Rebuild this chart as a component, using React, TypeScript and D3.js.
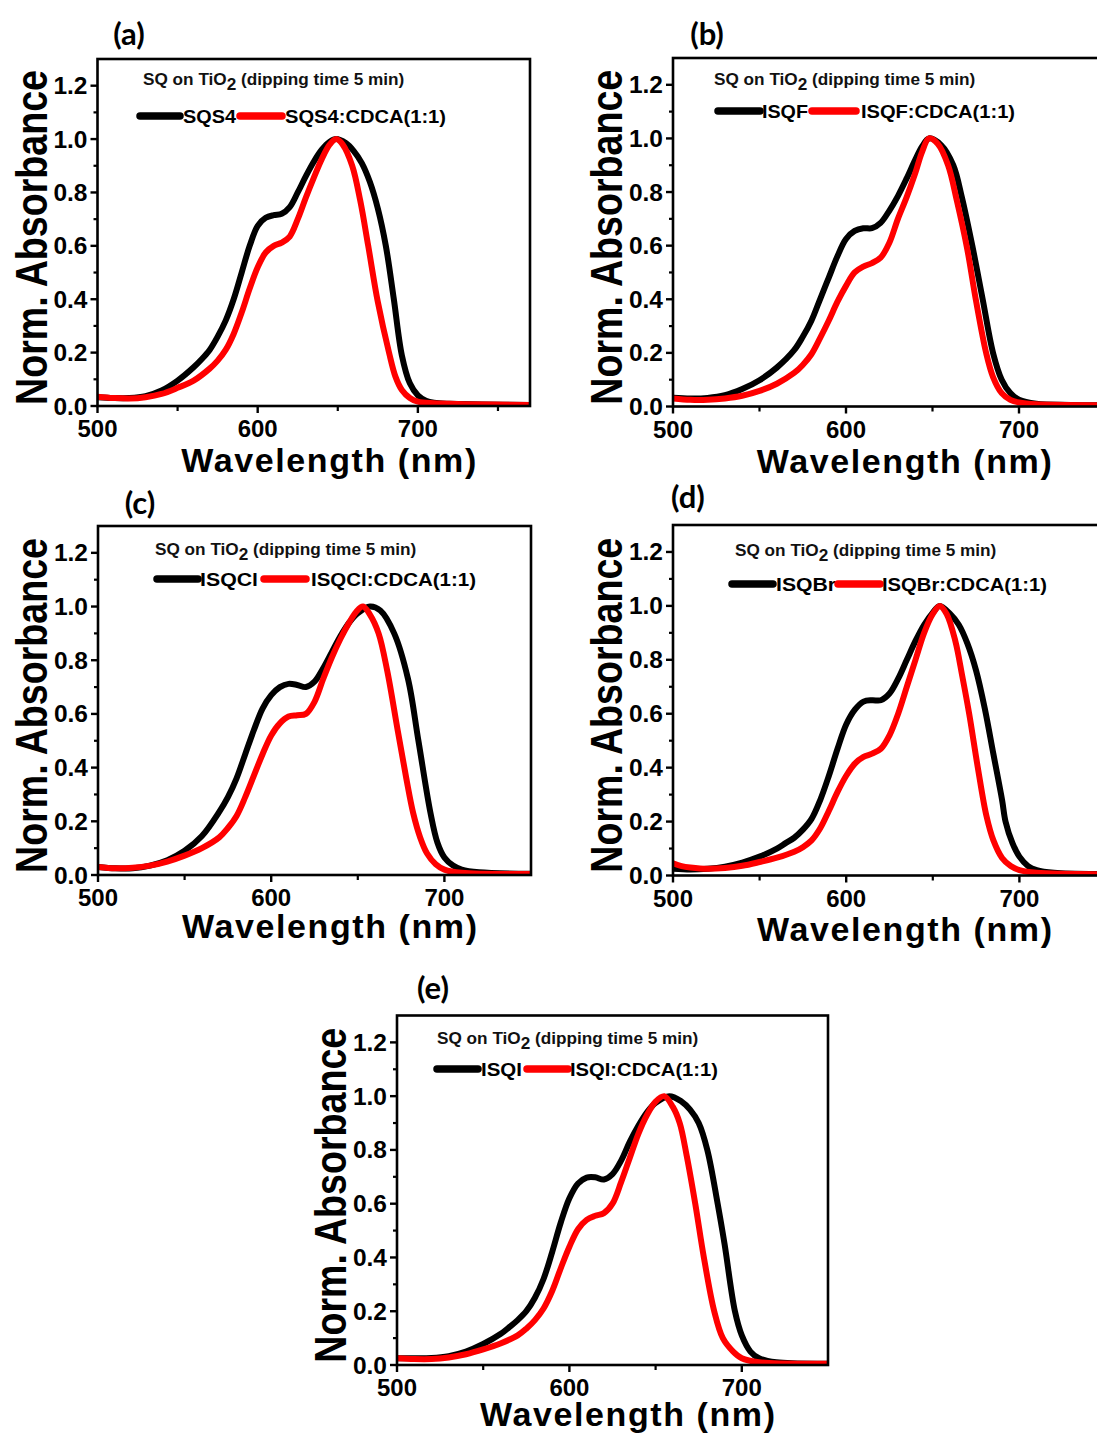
import React from "react";
import * as d3 from "d3";

type Pt = [number, number];

// ---------- data: [wavelength (nm), normalized absorbance] ----------
const sqs4: Pt[] = [[500,0.033],[510,0.03],[520,0.03],[530,0.037],[540,0.058],[550,0.095],[560,0.145],[565,0.175],[570,0.21],[575,0.26],[580,0.32],[585,0.4],[590,0.5],[595,0.6],[600,0.675],[605,0.705],[610,0.715],[615,0.72],[620,0.745],[625,0.8],[630,0.86],[635,0.915],[640,0.96],[645,0.99],[649,1.0],[655,0.985],[660,0.955],[665,0.91],[670,0.84],[675,0.74],[680,0.6],[685,0.4],[690,0.19],[695,0.085],[700,0.04],[705,0.02],[710,0.012],[720,0.008],[740,0.006],[770,0.004]];
const sqs4Cdca: Pt[] = [[500,0.035],[510,0.03],[520,0.028],[530,0.033],[540,0.045],[550,0.068],[560,0.095],[570,0.14],[575,0.17],[580,0.21],[585,0.27],[590,0.35],[595,0.44],[600,0.52],[605,0.575],[610,0.6],[615,0.612],[620,0.635],[625,0.7],[630,0.78],[635,0.855],[640,0.925],[645,0.98],[649,1.0],[653,0.98],[659,0.9],[664,0.77],[669,0.6],[675,0.39],[682,0.2],[686,0.11],[690,0.06],[695,0.03],[700,0.016],[710,0.01],[730,0.007],[770,0.004]];

const isqf: Pt[] = [[500,0.033],[510,0.03],[520,0.032],[530,0.042],[540,0.065],[550,0.098],[560,0.145],[570,0.21],[575,0.26],[580,0.32],[585,0.4],[590,0.48],[595,0.56],[600,0.625],[605,0.655],[610,0.665],[615,0.665],[620,0.685],[625,0.73],[630,0.785],[635,0.85],[640,0.92],[644,0.97],[648,1.0],[655,0.975],[662,0.9],[667,0.78],[673,0.6],[679,0.4],[685,0.2],[690,0.1],[695,0.05],[700,0.025],[710,0.01],[730,0.006],[750,0.005]];
const isqfCdca: Pt[] = [[500,0.03],[510,0.025],[520,0.025],[530,0.03],[540,0.04],[550,0.058],[560,0.085],[570,0.125],[575,0.155],[580,0.195],[585,0.255],[590,0.32],[595,0.39],[600,0.45],[605,0.5],[610,0.522],[615,0.535],[620,0.555],[625,0.61],[630,0.7],[635,0.78],[640,0.87],[644,0.95],[648,1.0],[653,0.98],[659,0.9],[664,0.77],[670,0.59],[675,0.4],[681,0.2],[685,0.11],[690,0.05],[695,0.025],[700,0.015],[710,0.008],[750,0.005]];

const isqcl: Pt[] = [[500,0.03],[510,0.025],[520,0.025],[530,0.035],[540,0.055],[550,0.09],[560,0.145],[570,0.235],[575,0.29],[580,0.36],[585,0.45],[590,0.54],[595,0.62],[600,0.67],[605,0.7],[610,0.712],[615,0.708],[620,0.7],[625,0.72],[630,0.77],[635,0.83],[640,0.89],[645,0.94],[650,0.975],[657,1.0],[663,0.985],[671,0.9],[679,0.73],[685,0.5],[692,0.23],[696,0.12],[700,0.065],[705,0.035],[710,0.02],[720,0.01],[750,0.005]];
const isqclCdca: Pt[] = [[500,0.03],[510,0.025],[520,0.027],[530,0.035],[540,0.05],[550,0.072],[560,0.1],[570,0.14],[575,0.175],[580,0.22],[585,0.29],[590,0.37],[595,0.45],[600,0.52],[605,0.565],[610,0.59],[615,0.595],[620,0.6],[625,0.645],[630,0.73],[635,0.81],[640,0.88],[645,0.94],[649,0.98],[653,1.0],[657,0.97],[662,0.9],[667,0.76],[673,0.54],[678,0.36],[682,0.23],[686,0.14],[690,0.08],[695,0.04],[700,0.02],[710,0.008],[750,0.004]];

const isqbr: Pt[] = [[500,0.025],[510,0.022],[520,0.025],[530,0.033],[540,0.048],[550,0.07],[560,0.1],[565,0.12],[570,0.14],[575,0.17],[580,0.21],[585,0.28],[590,0.37],[595,0.47],[600,0.56],[605,0.615],[610,0.645],[615,0.65],[620,0.65],[625,0.675],[630,0.73],[635,0.8],[640,0.87],[645,0.93],[650,0.975],[654,1.0],[660,0.97],[665,0.93],[670,0.86],[675,0.76],[680,0.62],[685,0.45],[690,0.28],[692,0.2],[696,0.12],[700,0.07],[705,0.035],[710,0.02],[720,0.01],[750,0.005]];
const isqbrCdca: Pt[] = [[500,0.045],[505,0.035],[510,0.03],[520,0.025],[530,0.028],[540,0.036],[550,0.05],[560,0.066],[570,0.088],[575,0.105],[580,0.13],[585,0.175],[590,0.24],[595,0.31],[600,0.37],[605,0.415],[610,0.44],[615,0.452],[620,0.47],[625,0.52],[630,0.6],[635,0.7],[640,0.8],[645,0.9],[650,0.97],[654,1.0],[658,0.97],[663,0.87],[667,0.74],[671,0.6],[676,0.4],[681,0.22],[685,0.13],[690,0.065],[695,0.035],[700,0.02],[710,0.01],[750,0.005]];

const isqi: Pt[] = [[500,0.025],[510,0.025],[520,0.026],[530,0.033],[540,0.05],[550,0.078],[560,0.115],[565,0.14],[570,0.167],[575,0.2],[580,0.25],[585,0.32],[590,0.42],[595,0.53],[600,0.62],[605,0.675],[610,0.697],[615,0.698],[620,0.69],[625,0.71],[630,0.76],[635,0.83],[640,0.89],[645,0.94],[650,0.975],[658,1.0],[665,0.98],[670,0.95],[675,0.9],[680,0.8],[686,0.6],[690,0.45],[696,0.2],[700,0.11],[705,0.05],[710,0.025],[720,0.01],[750,0.005]];
const isqiCdca: Pt[] = [[500,0.025],[510,0.022],[520,0.022],[530,0.028],[540,0.04],[550,0.058],[560,0.08],[570,0.11],[575,0.135],[580,0.167],[585,0.21],[590,0.275],[595,0.36],[600,0.44],[605,0.505],[610,0.54],[615,0.555],[620,0.565],[625,0.6],[630,0.68],[635,0.77],[640,0.86],[645,0.93],[650,0.98],[655,1.0],[660,0.96],[664,0.9],[668,0.78],[673,0.6],[678,0.4],[684,0.2],[689,0.1],[695,0.05],[700,0.025],[710,0.01],[750,0.005]];

const panelLabels = ["(a)", "(b)", "(c)", "(d)", "(e)"];
const blackNames = ["SQS4", "ISQF", "ISQCl", "ISQBr", "ISQI"];
const redNames = ["SQS4:CDCA(1:1)", "ISQF:CDCA(1:1)", "ISQCl:CDCA(1:1)", "ISQBr:CDCA(1:1)", "ISQI:CDCA(1:1)"];
const blackSeries = [sqs4, isqf, isqcl, isqbr, isqi];
const redSeries = [sqs4Cdca, isqfCdca, isqclCdca, isqbrCdca, isqiCdca];
const xMaxes = [770, 750, 750, 750, 750];
const xTickValues = [500, 600, 700];
const xMinorValues = [550, 650, 750];
const yTickValues = [0, 0.2, 0.4, 0.6, 0.8, 1.0, 1.2];
const yMinorValues = [0.1, 0.3, 0.5, 0.7, 0.9, 1.1];
const legendTitle = "SQ on TiO";
const legendTitleSub = "2";
const legendTitleTail = " (dipping time 5 min)";
const xTitle = "Wavelength (nm)";
const yTitle = "Norm. Absorbance";

// ---------- layout ----------
const layouts = [
  { left: 97.5, right: 530, top: 59, bottom: 406, lab: [129, 45], xt: 66,
    title: [143, 85], row: 116, l1: [140, 180], t1: [183, 53], l2: [240, 282], t2: [285, 161] },
  { left: 673, right: 1105.5, top: 58, bottom: 406.5, lab: [707, 45], xt: 66,
    title: [714, 85], row: 111, l1: [718, 760], t1: [762, 46], l2: [812, 856], t2: [861, 154] },
  { left: 98, right: 531, top: 526, bottom: 875, lab: [140, 514], xt: 63,
    title: [155, 555], row: 579, l1: [157, 198], t1: [200, 58], l2: [264, 306], t2: [311, 165] },
  { left: 673, right: 1106, top: 525, bottom: 875.5, lab: [688, 508], xt: 65,
    title: [735, 556], row: 584, l1: [732, 773], t1: [776, 60], l2: [838, 880], t2: [882, 165] },
  { left: 397, right: 828, top: 1015.5, bottom: 1365, lab: [433, 999], xt: 61,
    title: [437, 1044], row: 1069, l1: [437, 478], t1: [481, 41], l2: [527, 568], t2: [570, 148] },
];

const FONT = "'Liberation Sans', Arial, sans-serif";

function Panel({ i }: { i: number }) {
  const L = layouts[i];
  const x = d3.scaleLinear().domain([500, xMaxes[i]]).range([L.left, L.right]);
  const y = d3.scaleLinear().domain([0, 1.3]).range([L.bottom, L.top]);
  const line = d3
    .line<Pt>()
    .x((d) => x(d[0]))
    .y((d) => y(d[1]))
    .curve(d3.curveCatmullRom.alpha(0.5));
  const clipId = `clip${i}`;
  const cx = (L.left + L.right) / 2 + 15;
  const cy = (L.top + L.bottom) / 2 + 5;
  return (
    <g>
      <defs>
        <clipPath id={clipId}>
          <rect x={L.left} y={L.top} width={L.right - L.left} height={L.bottom - L.top} />
        </clipPath>
      </defs>
      <text x={L.lab[0]} y={L.lab[1]} textAnchor="middle" fontFamily="Lato, 'Open Sans', sans-serif" fontWeight={700} fontSize={31}>
        {panelLabels[i]}
      </text>
      <g clipPath={`url(#${clipId})`}>
        <path d={line(blackSeries[i]) || ""} fill="none" stroke="#000" strokeWidth={6} strokeLinejoin="round" />
        <path d={line(redSeries[i]) || ""} fill="none" stroke="#ff0000" strokeWidth={6} strokeLinejoin="round" />
      </g>
      <rect x={L.left} y={L.top} width={L.right - L.left} height={L.bottom - L.top} fill="none" stroke="#000" strokeWidth={2.6} />
      {yTickValues.map((v) => (
        <g key={"y" + v}>
          <line x1={L.left - 7} x2={L.left} y1={y(v)} y2={y(v)} stroke="#000" strokeWidth={2.4} />
          <text x={L.left - 10} y={y(v) + 8.5} textAnchor="end" fontFamily={FONT} fontWeight={700} fontSize={24.5}>
            {d3.format(".1f")(v)}
          </text>
        </g>
      ))}
      {yMinorValues.map((v) => (
        <line key={"ym" + v} x1={L.left - 4} x2={L.left} y1={y(v)} y2={y(v)} stroke="#000" strokeWidth={2.2} />
      ))}
      {xTickValues.map((v) => (
        <g key={"x" + v}>
          <line x1={x(v)} x2={x(v)} y1={L.bottom} y2={L.bottom + 7} stroke="#000" strokeWidth={2.4} />
          <text x={x(v)} y={L.bottom + 31} textAnchor="middle" fontFamily={FONT} fontWeight={700} fontSize={24}>
            {v}
          </text>
        </g>
      ))}
      {xMinorValues.filter((v) => v < xMaxes[i]).map((v) => (
        <line key={"xm" + v} x1={x(v)} x2={x(v)} y1={L.bottom} y2={L.bottom + 5} stroke="#000" strokeWidth={2.2} />
      ))}
      <text x={cx} y={L.bottom + L.xt} textAnchor="middle" fontFamily={FONT} fontWeight={700} fontSize={34}
        textLength={295} lengthAdjust="spacing">
        {xTitle}
      </text>
      <text transform={`translate(${L.left - 51},${cy}) rotate(-90) scale(1,1.22)`} textAnchor="middle" fontFamily={FONT}
        fontWeight={700} fontSize={36} textLength={335} lengthAdjust="spacingAndGlyphs">
        {yTitle}
      </text>
      <text x={L.title[0]} y={L.title[1]} fontFamily={FONT} fontWeight={700} fontSize={17.2} fill="#111">
        <tspan>{legendTitle}</tspan>
        <tspan dy={5} fontSize={17.2}>{legendTitleSub}</tspan>
        <tspan dy={-5}>{legendTitleTail}</tspan>
      </text>
      <line x1={L.l1[0]} x2={L.l1[1]} y1={L.row} y2={L.row} stroke="#000" strokeWidth={7.5} strokeLinecap="round" />
      <text x={L.t1[0]} y={L.row + 7} fontFamily={FONT} fontWeight={700} fontSize={19} textLength={L.t1[1]}
        lengthAdjust="spacingAndGlyphs">
        {blackNames[i]}
      </text>
      <line x1={L.l2[0]} x2={L.l2[1]} y1={L.row} y2={L.row} stroke="#ff0000" strokeWidth={7.5} strokeLinecap="round" />
      <text x={L.t2[0]} y={L.row + 7} fontFamily={FONT} fontWeight={700} fontSize={19} textLength={L.t2[1]}
        lengthAdjust="spacingAndGlyphs">
        {redNames[i]}
      </text>
    </g>
  );
}

export default function App() {
  return (
    <svg width={1097} height={1435} viewBox="0 0 1097 1435"
      style={{ position: "absolute", left: 0, top: 0, display: "block", background: "#fff" }}>
      <rect width={1097} height={1435} fill="#fff" />
      {layouts.map((_, i) => (
        <Panel key={i} i={i} />
      ))}
    </svg>
  );
}
